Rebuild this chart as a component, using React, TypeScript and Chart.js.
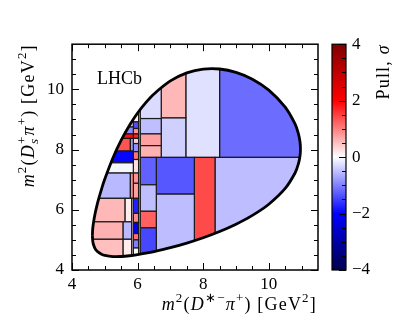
import React, { useEffect, useRef } from "react";
import { Chart, registerables } from "chart.js";

Chart.register(...registerables);

const FONT = '"Liberation Serif", "Times New Roman", serif';

// Dalitz-plot kinematic boundary (upper branch, left to right)
const upperX = [4.6218, 4.63, 4.65, 4.7, 4.75, 4.8, 4.9, 5.0, 5.25, 5.5, 5.75, 6.0, 6.25, 6.5, 7.0, 7.5, 8.0, 8.5, 9.0, 9.5, 10.0, 10.5, 10.8, 10.9, 10.95, 10.9648];
const upperY = [5.152, 5.348, 5.538, 5.851, 6.096, 6.311, 6.688, 7.021, 7.729, 8.312, 8.801, 9.213, 9.559, 9.848, 10.280, 10.546, 10.673, 10.676, 10.564, 10.336, 9.973, 9.409, 8.852, 8.541, 8.268, 8.021];
// lower branch, right to left
const lowerX = [10.95, 10.9, 10.8, 10.5, 10.0, 9.5, 9.0, 8.5, 8.0, 7.5, 7.0, 6.5, 6.25, 6.0, 5.75, 5.5, 5.25, 5.0, 4.9, 4.8, 4.75, 4.7, 4.65, 4.63, 4.6218];
const lowerY = [7.777, 7.514, 7.221, 6.709, 6.185, 5.814, 5.521, 5.278, 5.072, 4.894, 4.741, 4.612, 4.557, 4.510, 4.473, 4.449, 4.446, 4.484, 4.523, 4.590, 4.643, 4.722, 4.864, 4.985, 5.152];

// Adaptive bins: edges and pull values
const binX0 = [8.50, 7.47, 6.72, 6.72, 6.08, 6.08, 6.08, 6.08, 8.36, 7.73, 6.57, 6.57, 6.08, 6.08, 6.08, 6.08, 6.03,
  5.87, 5.87, 5.87, 5.87, 5.87, 5.87, 5.87, 5.87, 5.87, 5.87, 5.87, 5.87, 5.87, 5.87, 5.87, 5.87,
  4, 4, 4, 4, 4, 5.78, 4, 4, 4, 5.78, 4, 5.62, 4, 5.56, 4, 5.56, 5.82];
const binX1 = [11.5, 8.50, 7.47, 7.47, 6.72, 6.72, 6.72, 6.72, 11.5, 8.36, 7.73, 7.73, 6.57, 6.57, 6.57, 6.57, 6.08,
  6.03, 6.03, 6.03, 6.03, 6.03, 6.03, 6.03, 6.03, 6.03, 6.03, 6.03, 6.03, 6.03, 6.03, 6.03, 6.03,
  5.87, 5.87, 5.87, 5.87, 5.78, 5.87, 5.87, 5.87, 5.78, 5.87, 5.62, 5.82, 5.56, 5.82, 5.56, 5.82, 5.87];
const binY0 = [7.74, 7.74, 9.05, 7.74, 9.03, 8.52, 8.13, 7.74, 4.0, 4.0, 6.52, 4.0, 6.83, 5.95, 5.40, 4.0, 4.0,
  8.92, 8.70, 8.52, 8.37, 8.20, 7.93, 7.67, 7.22, 6.88, 6.38, 5.88, 5.58, 5.21, 5.00, 4.73, 4.00,
  8.92, 8.75, 8.52, 8.37, 7.95, 7.95, 7.56, 7.22, 6.38, 6.38, 5.60, 5.60, 5.02, 5.02, 4.0, 4.0, 4.0];
const binY1 = [11.5, 11.5, 11.5, 9.05, 11.5, 9.03, 8.52, 8.13, 7.74, 7.74, 7.74, 6.52, 7.74, 6.83, 5.95, 5.40, 11.5,
  11.5, 8.92, 8.70, 8.52, 8.37, 8.20, 7.93, 7.67, 7.22, 6.88, 6.38, 5.88, 5.58, 5.21, 5.00, 4.73,
  11.5, 8.92, 8.75, 8.52, 8.37, 8.37, 7.95, 7.56, 7.22, 7.22, 6.38, 6.38, 5.60, 5.60, 5.02, 5.02, 6.38];
const binPull = [-1.15, -0.24, 0.56, -0.37, -0.28, -0.50, 0.75, 0.62, -0.52, 1.42, -1.32, -0.52, -1.24, -0.50, 1.25, -1.44, 0.0,
  0.10, -1.40, 0.85, 1.75, 0.35, -0.85, 1.10, 0.25, 0.85, 0.75, -1.75, 0.90, -2.30, 1.10, -1.00, -0.05,
  0.15, 0.5, -0.9, 1.9, 1.35, -0.8, -1.95, -0.06, -0.55, 0.9, 0.56, 0.15, 0.62, -0.55, 0.5, 0.15, 0.3];

// ticks
const axisMajorTicks = [4, 6, 8, 10];
const axisMinorTicks = [4.5, 5, 5.5, 6.5, 7, 7.5, 8.5, 9, 9.5, 10.5, 11];
const pullMajorTicks = [-4, -2, 0, 2, 4];
const pullMinorTicks = [-3.5, -3, -2.5, -1.5, -1, -0.5, 0.5, 1, 1.5, 2.5, 3, 3.5];

function seismic(p: number): string {
  const t = Math.max(0, Math.min(1, (p + 4) / 8));
  let r = 0, g = 0, b = 0;
  if (t < 0.25) { r = 0; g = 0; b = 0.3 + 0.7 * (t / 0.25); }
  else if (t < 0.5) { const u = (t - 0.25) / 0.25; r = u; g = u; b = 1; }
  else if (t < 0.75) { const u = (t - 0.5) / 0.25; r = 1; g = 1 - u; b = 1 - u; }
  else { const u = (t - 0.75) / 0.25; r = 1 - 0.5 * u; g = 0; b = 0; }
  return `rgb(${Math.round(r * 255)},${Math.round(g * 255)},${Math.round(b * 255)})`;
}

type Seg = { t?: string; it?: boolean; sup?: boolean; sub?: boolean; supsub?: [string, string] };
const BIG = 18;
const SMALL = 13;
const SPACING = 1.2;
const fnt = (size: number, it?: boolean) => `${it ? "italic " : ""}${size}px ${FONT}`;

function textW(ctx: CanvasRenderingContext2D, s: string) {
  return ctx.measureText(s).width + SPACING * s.length;
}

function segsWidth(ctx: CanvasRenderingContext2D, segs: Seg[]) {
  let w = 0;
  for (const s of segs) {
    if (s.supsub) {
      ctx.font = fnt(SMALL, true);
      const a = textW(ctx, s.supsub[0]);
      ctx.font = fnt(SMALL, false);
      const b = textW(ctx, s.supsub[1]);
      w += Math.max(a, b);
    } else {
      ctx.font = fnt(s.sup || s.sub ? SMALL : BIG, s.it);
      w += textW(ctx, s.t || "");
    }
  }
  return w;
}

function drawStr(ctx: CanvasRenderingContext2D, str: string, x: number, y: number) {
  let cx = x;
  for (const ch of Array.from(str)) {
    ctx.fillText(ch, cx, y);
    cx += ctx.measureText(ch).width + SPACING;
  }
}

function drawSegs(ctx: CanvasRenderingContext2D, segs: Seg[], x: number, y: number) {
  let cx = x;
  ctx.textAlign = "left";
  ctx.textBaseline = "alphabetic";
  for (const s of segs) {
    if (s.supsub) {
      ctx.font = fnt(SMALL, true);
      const a = textW(ctx, s.supsub[0]);
      drawStr(ctx, s.supsub[0], cx, y + 4);
      ctx.font = fnt(SMALL, false);
      const b = textW(ctx, s.supsub[1]);
      drawStr(ctx, s.supsub[1], cx, y - 8);
      cx += Math.max(a, b);
    } else {
      ctx.font = fnt(s.sup || s.sub ? SMALL : BIG, s.it);
      const dy = s.sup ? -8 : s.sub ? 4 : 0;
      drawStr(ctx, s.t || "", cx, y + dy);
      cx += textW(ctx, s.t || "");
    }
  }
}

const xTitle: Seg[] = [
  { t: "m", it: true }, { t: "2", sup: true }, { t: "(" }, { t: "D", it: true }, { t: "∗−", sup: true },
  { t: "π", it: true }, { t: "+", sup: true }, { t: ")" }, { t: " [GeV" }, { t: "2", sup: true }, { t: "]" },
];
const yTitle: Seg[] = [
  { t: "m", it: true }, { t: "2", sup: true }, { t: "(" }, { t: "D", it: true }, { supsub: ["s", "+"] },
  { t: "π", it: true }, { t: "+", sup: true }, { t: ")" }, { t: " [GeV" }, { t: "2", sup: true }, { t: "]" },
];
const cbTitle: Seg[] = [{ t: "Pull, " }, { t: "σ", it: true }];

const binsPlugin = {
  id: "bins",
  beforeDatasetsDraw(chart: any) {
    const { ctx, chartArea } = chart;
    const xs = chart.scales.x;
    const ys = chart.scales.y;
    const pts = chart.getDatasetMeta(0).data as any[];
    ctx.save();
    ctx.beginPath();
    ctx.rect(chartArea.left, chartArea.top, chartArea.right - chartArea.left, chartArea.bottom - chartArea.top);
    ctx.clip();
    ctx.beginPath();
    pts.forEach((p: any, i: number) => {
      if (i === 0) ctx.moveTo(p.x, p.y);
      else {
        const q = pts[i - 1];
        if (q.cp2x !== undefined && p.cp1x !== undefined) ctx.bezierCurveTo(q.cp2x, q.cp2y, p.cp1x, p.cp1y, p.x, p.y);
        else ctx.lineTo(p.x, p.y);
      }
    });
    ctx.closePath();
    ctx.clip();
    ctx.lineWidth = 1.2;
    ctx.strokeStyle = "#1a1a1a";
    for (let i = 0; i < binPull.length; i++) {
      const x0 = xs.getPixelForValue(binX0[i]);
      const x1 = xs.getPixelForValue(binX1[i]);
      const y0 = ys.getPixelForValue(binY0[i]);
      const y1 = ys.getPixelForValue(binY1[i]);
      ctx.fillStyle = seismic(binPull[i]);
      ctx.fillRect(x0, y1, x1 - x0, y0 - y1);
      ctx.strokeRect(x0, y1, x1 - x0, y0 - y1);
    }
    ctx.restore();
  },
  afterDraw(chart: any) {
    const { ctx, chartArea } = chart;
    const xs = chart.scales.x;
    const ys = chart.scales.y;
    const ps = chart.scales.pull;
    const { left, right, top, bottom } = chartArea;
    ctx.save();
    // ticks, inward on four sides
    ctx.strokeStyle = "#000";
    ctx.lineWidth = 1;
    const tick = (v: number, len: number) => {
      const px = Math.round(xs.getPixelForValue(v)) + 0.5;
      const py = Math.round(ys.getPixelForValue(v)) + 0.5;
      ctx.beginPath();
      ctx.moveTo(px, bottom); ctx.lineTo(px, bottom - len);
      ctx.moveTo(px, top); ctx.lineTo(px, top + len);
      ctx.moveTo(left, py); ctx.lineTo(left + len, py);
      ctx.moveTo(right, py); ctx.lineTo(right - len, py);
      ctx.stroke();
    };
    axisMajorTicks.forEach((v) => tick(v, 7));
    axisMinorTicks.forEach((v) => tick(v, 4));
    // frame
    ctx.lineWidth = 1.5;
    ctx.strokeRect(left, top, right - left, bottom - top);

    // colorbar
    const cbL = ps.left + 14;
    const cbR = ps.left + 28;
    const cbT = ps.getPixelForValue(4);
    const cbB = ps.getPixelForValue(-4);
    const grad = ctx.createLinearGradient(0, cbB, 0, cbT);
    [[0, -4], [0.25, -2], [0.5, 0], [0.75, 2], [1, 4]].forEach(([o, v]) => grad.addColorStop(o, seismic(v)));
    ctx.fillStyle = grad;
    ctx.fillRect(cbL, cbT, cbR - cbL, cbB - cbT);
    ctx.lineWidth = 1;
    const ctick = (v: number, len: number) => {
      const py = Math.round(ps.getPixelForValue(v)) + 0.5;
      ctx.beginPath();
      ctx.moveTo(cbR, py); ctx.lineTo(cbR - len, py);
      ctx.stroke();
    };
    pullMajorTicks.forEach((v) => ctick(v, 7));
    pullMinorTicks.forEach((v) => ctick(v, 4));
    ctx.lineWidth = 1.2;
    ctx.strokeRect(cbL, cbT, cbR - cbL, cbB - cbT);

    // texts
    ctx.fillStyle = "#000";
    ctx.font = `18px ${FONT}`;
    ctx.textAlign = "left";
    ctx.textBaseline = "alphabetic";
    ctx.fillText("LHCb", left + 25, top + 40);

    const xw = segsWidth(ctx, xTitle);
    drawSegs(ctx, xTitle, right - 1 - xw, 310);

    const yw = segsWidth(ctx, yTitle);
    ctx.save();
    ctx.translate(34, top);
    ctx.rotate(-Math.PI / 2);
    drawSegs(ctx, yTitle, -yw, 0);
    ctx.restore();

    const cw = segsWidth(ctx, cbTitle);
    ctx.save();
    ctx.translate(389, cbT);
    ctx.rotate(-Math.PI / 2);
    drawSegs(ctx, cbTitle, -cw, 0);
    ctx.restore();
    ctx.restore();
  },
};

export default function App() {
  const ref = useRef<HTMLCanvasElement>(null);
  useEffect(() => {
    document.body.style.margin = "0";
    const canvas = ref.current!;
    const boundary = [
      ...upperX.map((x, i) => ({ x, y: upperY[i] })),
      ...lowerX.map((x, i) => ({ x, y: lowerY[i] })),
    ];
    const tickFont = { family: FONT, size: 17 };
    const chart = new Chart(canvas, {
      type: "scatter",
      data: {
        datasets: [
          {
            data: boundary,
            showLine: true,
            borderColor: "#000",
            borderWidth: 2.8,
            pointRadius: 0,
            tension: 0.3,
            fill: false,
            clip: false,
          } as any,
        ],
      },
      options: {
        animation: false,
        responsive: false,
        devicePixelRatio: 1,
        layout: { padding: { top: 15, left: 0, right: 0, bottom: 0 } },
        plugins: { legend: { display: false }, tooltip: { enabled: false } },
        events: [],
        scales: {
          x: {
            type: "linear",
            position: "bottom",
            min: 4,
            max: 11.5,
            afterFit: (s: any) => { s.height = 52; },
            grid: { display: false, drawTicks: false },
            border: { display: false },
            ticks: { stepSize: 2, includeBounds: false, padding: 4, color: "#000", font: tickFont, maxRotation: 0 },
          },
          y: {
            type: "linear",
            position: "left",
            min: 4,
            max: 11.5,
            afterFit: (s: any) => { s.width = 72; },
            grid: { display: false, drawTicks: false },
            border: { display: false },
            ticks: { stepSize: 2, includeBounds: false, padding: 8, color: "#000", font: tickFont },
          },
          pull: {
            type: "linear",
            axis: "y",
            position: "right",
            min: -4,
            max: 4,
            afterFit: (s: any) => { s.width = 81; },
            grid: { display: false, drawTicks: false },
            border: { display: false },
            ticks: {
              stepSize: 2,
              padding: 34,
              color: "#000",
              font: tickFont,
              callback: (v: any) => (Number(v) < 0 ? "−" + Math.abs(Number(v)) : String(v)),
            },
          },
        } as any,
      },
      plugins: [binsPlugin],
    });
    return () => chart.destroy();
  }, []);
  return (
    <div style={{ width: 399, height: 322 }}>
      <canvas ref={ref} width={399} height={322} style={{ display: "block" }} />
    </div>
  );
}
